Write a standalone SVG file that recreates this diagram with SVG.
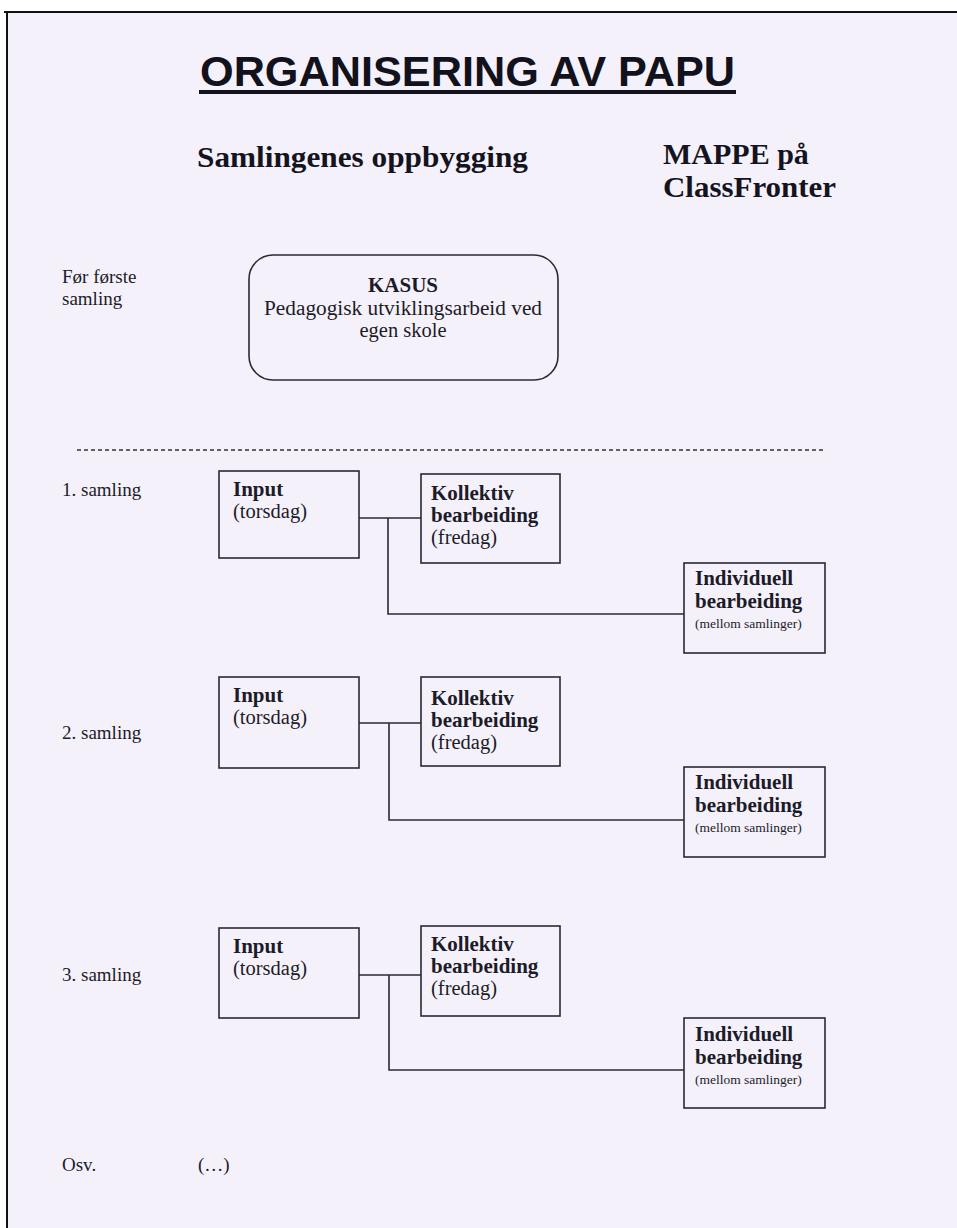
<svg xmlns="http://www.w3.org/2000/svg" width="957" height="1228" viewBox="0 0 957 1228">
<style>
  .bg{fill:#f5f1fb}
  .frame{stroke:#111;stroke-width:2;fill:none}
  .box{fill:none;stroke:#2a2a33;stroke-width:1.6}
  .conn{fill:none;stroke:#2a2a33;stroke-width:1.6}
  .t{font-family:"Liberation Serif","Times New Roman",serif;font-size:19px;fill:#1c1c28}
  .bt{font-family:"Liberation Serif","Times New Roman",serif;font-size:20.5px;fill:#1c1c28}
  .b{font-family:"Liberation Serif","Times New Roman",serif;font-size:21px;font-weight:bold;fill:#1c1c28}
  .s{font-family:"Liberation Serif","Times New Roman",serif;font-size:13.5px;fill:#1c1c28}
  .h{font-family:"Liberation Serif","Times New Roman",serif;font-size:30px;font-weight:bold;fill:#14141f}
  .title{font-family:"Liberation Sans",Arial,sans-serif;font-size:43px;font-weight:bold;fill:#12121c}
</style>
<rect x="0" y="0" width="957" height="1228" fill="#ffffff"/>
<rect class="bg" x="7" y="12" width="950" height="1216"/>
<path class="frame" d="M4,12 H957 M7,12 V1228"/>

<g id="title">
  <text class="title" x="200" y="86" textLength="535" lengthAdjust="spacingAndGlyphs">ORGANISERING AV PAPU</text>
  <rect x="199" y="90" width="537" height="4" fill="#12121c"/>
</g>
<g id="heading-samlingenes">
  <text class="h" x="197" y="167" textLength="331" lengthAdjust="spacingAndGlyphs">Samlingenes oppbygging</text>
</g>
<g id="heading-mappe">
  <text class="h" x="663" y="164">MAPPE på</text>
  <text class="h" x="663" y="197" textLength="173" lengthAdjust="spacingAndGlyphs">ClassFronter</text>
</g>

<g id="label-for">
  <text class="t" x="62" y="283">Før første</text>
  <text class="t" x="62" y="305">samling</text>
</g>
<g id="kasus">
  <rect class="box" x="249" y="255" width="309" height="125" rx="24" ry="24"/>
  <text class="b" x="403" y="292" text-anchor="middle" font-size="18">KASUS</text>
  <text class="bt" x="403" y="315" text-anchor="middle" textLength="278" lengthAdjust="spacingAndGlyphs">Pedagogisk utviklingsarbeid ved</text>
  <text class="bt" x="403" y="337" text-anchor="middle">egen skole</text>
</g>

<g id="divider">
  <line x1="77" y1="450" x2="826" y2="450" stroke="#333" stroke-width="1.3" stroke-dasharray="4,3"/>
</g>

<g id="connectors">
  <path class="conn" d="M359,518 H421 M388,518 V614 H684"/>
  <path class="conn" d="M359,723 H421 M389,723 V820 H684"/>
  <path class="conn" d="M359,975 H421 M389,975 V1070 H684"/>
</g>

<!-- Samling 1 -->
<g id="label-s1"><text class="t" x="62" y="496">1. samling</text></g>
<g id="input-1">
  <rect class="box" x="219" y="471" width="140" height="87"/>
  <text class="b" x="233" y="496">Input</text>
  <text class="bt" x="233" y="518">(torsdag)</text>
</g>
<g id="kollektiv-1">
  <rect class="box" x="421" y="474" width="139" height="89"/>
  <text class="b" x="431" y="500">Kollektiv</text>
  <text class="b" x="431" y="522">bearbeiding</text>
  <text class="bt" x="431" y="544">(fredag)</text>
</g>
<g id="individuell-1">
  <rect class="box" x="684" y="563" width="141" height="90"/>
  <text class="b" x="695" y="585" font-size="20.5">Individuell</text>
  <text class="b" x="695" y="608" font-size="20.5">bearbeiding</text>
  <text class="s" x="695" y="628">(mellom samlinger)</text>
</g>

<!-- Samling 2 -->
<g id="label-s2"><text class="t" x="62" y="739">2. samling</text></g>
<g id="input-2">
  <rect class="box" x="219" y="677" width="140" height="91"/>
  <text class="b" x="233" y="702">Input</text>
  <text class="bt" x="233" y="724">(torsdag)</text>
</g>
<g id="kollektiv-2">
  <rect class="box" x="421" y="677" width="139" height="89"/>
  <text class="b" x="431" y="705">Kollektiv</text>
  <text class="b" x="431" y="727">bearbeiding</text>
  <text class="bt" x="431" y="749">(fredag)</text>
</g>
<g id="individuell-2">
  <rect class="box" x="684" y="767" width="141" height="90"/>
  <text class="b" x="695" y="789" font-size="20.5">Individuell</text>
  <text class="b" x="695" y="812" font-size="20.5">bearbeiding</text>
  <text class="s" x="695" y="832">(mellom samlinger)</text>
</g>

<!-- Samling 3 -->
<g id="label-s3"><text class="t" x="62" y="981">3. samling</text></g>
<g id="input-3">
  <rect class="box" x="219" y="928" width="140" height="90"/>
  <text class="b" x="233" y="953">Input</text>
  <text class="bt" x="233" y="975">(torsdag)</text>
</g>
<g id="kollektiv-3">
  <rect class="box" x="421" y="926" width="139" height="90"/>
  <text class="b" x="431" y="951">Kollektiv</text>
  <text class="b" x="431" y="973">bearbeiding</text>
  <text class="bt" x="431" y="995">(fredag)</text>
</g>
<g id="individuell-3">
  <rect class="box" x="684" y="1018" width="141" height="90"/>
  <text class="b" x="695" y="1041" font-size="20.5">Individuell</text>
  <text class="b" x="695" y="1064" font-size="20.5">bearbeiding</text>
  <text class="s" x="695" y="1084">(mellom samlinger)</text>
</g>

<g id="osv">
  <text class="t" x="62" y="1171">Osv.</text>
  <text class="t" x="198" y="1171">(…)</text>
</g>
</svg>
